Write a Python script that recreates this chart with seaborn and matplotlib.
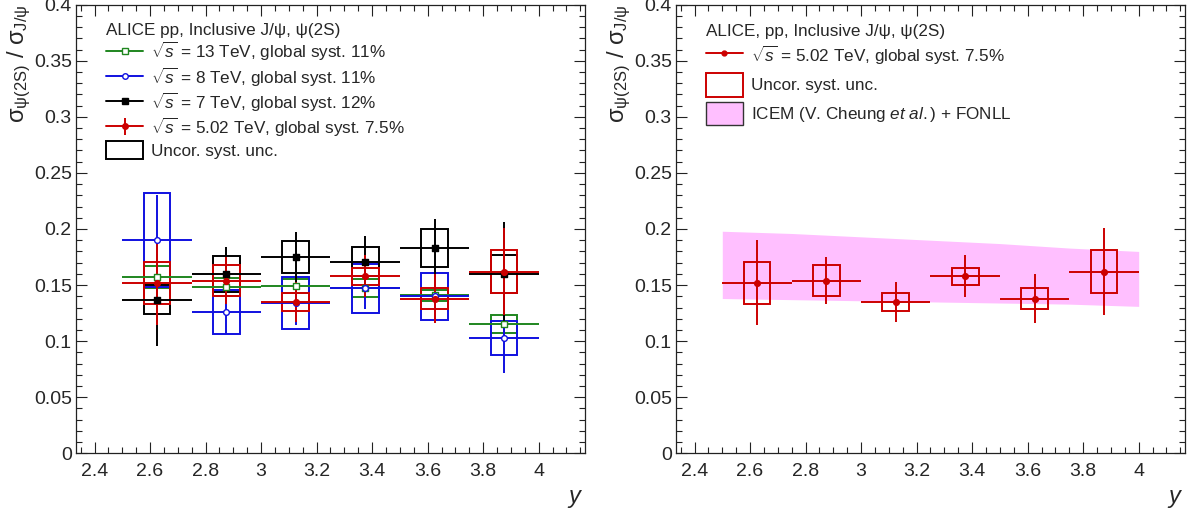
# -*- coding: utf-8 -*-
import numpy as np
import pandas as pd
import matplotlib
matplotlib.use("Agg")
import matplotlib.pyplot as plt
from matplotlib.lines import Line2D
from matplotlib.patches import Patch
from matplotlib.ticker import MultipleLocator, FormatStrFormatter
import seaborn as sns

sns.set_style("ticks")
plt.rcParams['font.family'] = ['Liberation Sans', 'DejaVu Sans']
plt.rcParams['mathtext.fontset'] = 'custom'
plt.rcParams['mathtext.rm'] = 'Liberation Sans'
plt.rcParams['mathtext.it'] = 'Liberation Sans:italic'
plt.rcParams['mathtext.bf'] = 'Liberation Sans:bold'

# ---------------- data ----------------
rap = [2.625, 2.875, 3.125, 3.375, 3.625, 3.875]
rap_halfbin = [0.125] * 6

# sqrt(s) = 13 TeV
val_13 = [0.157, 0.148, 0.149, 0.147, 0.141, 0.115]
stat_13 = [0.008, 0.007, 0.007, 0.006, 0.005, 0.007]
syst_13 = [0.010, 0.008, 0.006, 0.008, 0.005, 0.008]
# sqrt(s) = 8 TeV
val_8 = [0.190, 0.126, 0.134, 0.147, 0.140, 0.103]
stat_8 = [0.040, 0.020, 0.020, 0.018, 0.020, 0.031]
syst_8 = [0.042, 0.020, 0.023, 0.022, 0.021, 0.015]
# sqrt(s) = 7 TeV
val_7 = [0.137, 0.160, 0.175, 0.171, 0.183, 0.160]
stat_7 = [0.041, 0.024, 0.022, 0.023, 0.026, 0.046]
syst_7 = [0.013, 0.016, 0.014, 0.013, 0.017, 0.017]
# sqrt(s) = 5.02 TeV
val_5 = [0.152, 0.154, 0.135, 0.158, 0.138, 0.162]
stat_5 = [0.038, 0.021, 0.0175, 0.019, 0.022, 0.039]
syst_5 = [0.019, 0.014, 0.008, 0.0075, 0.0095, 0.019]

# ICEM + FONLL band
band_rap = [2.5, 2.75, 3.0, 3.25, 3.5, 3.75, 4.0]
band_lo = [0.138, 0.137, 0.136, 0.135, 0.134, 0.133, 0.131]
band_hi = [0.198, 0.196, 0.193, 0.190, 0.187, 0.183, 0.180]

legend_head_l = "ALICE pp, Inclusive J/\u03c8, \u03c8(2S)"
legend_head_r = "ALICE, pp, Inclusive J/\u03c8, \u03c8(2S)"
lab_13 = r"$\sqrt{s}$ = 13 TeV, global syst. 11%"
lab_8 = r"$\sqrt{s}$ = 8 TeV, global syst. 11%"
lab_7 = r"$\sqrt{s}$ = 7 TeV, global syst. 12%"
lab_5 = r"$\sqrt{s}$ = 5.02 TeV, global syst. 7.5%"
lab_box = "Uncor. syst. unc."
lab_model = r"ICEM (V. Cheung $\it{et\ al.}$) + FONLL"

c_green = "#1f861f"
c_blue = "#1010e0"
c_black = "#000000"
c_red = "#cc0000"
c_band = "#ffbfff"

LW = 1.4
FS_TICK = 14
FS_LEG = 12.3


def draw_set(ax, val, stat, syst, color, marker, face):
    df = pd.DataFrame({"y": rap, "r": val, "stat": stat, "syst": syst})
    ax.bar(df["y"], 2 * df["syst"], bottom=df["r"] - df["syst"], width=0.097,
           fill=False, edgecolor=color, linewidth=LW, zorder=3)
    ax.errorbar(df["y"], df["r"], xerr=rap_halfbin, yerr=df["stat"],
                fmt="none", ecolor=color, elinewidth=LW, capsize=0, zorder=4)
    sns.scatterplot(data=df, x="y", y="r", ax=ax, marker=marker, s=17,
                    facecolor=face, edgecolor=color, linewidth=1.0,
                    zorder=5, legend=False)


def style_axes(ax):
    ax.set_xlim(2.3333, 4.1667)
    ax.set_ylim(0, 0.4)
    ax.xaxis.set_major_locator(MultipleLocator(0.2))
    ax.xaxis.set_minor_locator(MultipleLocator(0.05))
    ax.yaxis.set_major_locator(MultipleLocator(0.05))
    ax.yaxis.set_minor_locator(MultipleLocator(0.01))
    ax.xaxis.set_major_formatter(FormatStrFormatter("%g"))
    ax.yaxis.set_major_formatter(FormatStrFormatter("%g"))
    ax.tick_params(which="both", direction="in", top=True, right=True,
                   width=0.8, labelsize=FS_TICK, color="#222222")
    ax.tick_params(which="major", length=8)
    ax.tick_params(which="minor", length=4)
    ax.tick_params(axis="x", pad=7)
    ax.tick_params(axis="y", pad=3)
    for s in ax.spines.values():
        s.set_linewidth(0.9)
        s.set_color("#222222")
    ax.set_ylabel(r"$\mathrm{\sigma_{\psi(2S)}}$ / $\mathrm{\sigma_{J/\psi}}$",
                  fontsize=17, loc="top")
    ax.yaxis.set_label_coords(-0.085, 1.0)
    ax.set_xlabel("y", fontsize=17, style="italic", loc="right")
    ax.xaxis.set_label_coords(0.99, -0.07)


fig = plt.figure(figsize=(11.95, 5.15), dpi=100)
axL = fig.add_axes([0.0636, 0.1198, 0.4259, 0.8711])
axR = fig.add_axes([0.5657, 0.1198, 0.4259, 0.8711])

# ---------------- left panel ----------------
draw_set(axL, val_13, stat_13, syst_13, c_green, "s", "white")
draw_set(axL, val_8, stat_8, syst_8, c_blue, "o", "white")
draw_set(axL, val_7, stat_7, syst_7, c_black, "s", c_black)
draw_set(axL, val_5, stat_5, syst_5, c_red, "o", c_red)
style_axes(axL)

h13 = Line2D([], [], color=c_green, lw=LW, marker="s", ms=4, mfc="white", mec=c_green)
h8 = Line2D([], [], color=c_blue, lw=LW, marker="o", ms=4, mfc="white", mec=c_blue)
h7 = Line2D([], [], color=c_black, lw=LW, marker="s", ms=4, mfc=c_black, mec=c_black)
h5 = axL.errorbar([], [], yerr=[], fmt="-o", color=c_red, lw=LW, ms=4, capsize=3)
hbox = Patch(facecolor="none", edgecolor=c_black, lw=LW)
axL.legend([h13, h8, h7, h5, hbox], [lab_13, lab_8, lab_7, lab_5, lab_box],
           title=legend_head_l, loc="upper left", bbox_to_anchor=(0.049, 0.969),
           frameon=False, fontsize=FS_LEG, title_fontsize=FS_LEG,
           alignment="left", handlelength=2.2, handleheight=1.25,
           handletextpad=0.45, labelspacing=0.12, borderpad=0.28, borderaxespad=0)

# ---------------- right panel ----------------
axR.fill_between(band_rap, band_lo, band_hi, color=c_band, lw=0, zorder=1)
draw_set(axR, val_5, stat_5, syst_5, c_red, "o", c_red)
style_axes(axR)

hr5 = Line2D([], [], color=c_red, lw=LW, marker="o", ms=3.5, mfc=c_red, mec=c_red)
hrbox = Patch(facecolor="none", edgecolor=c_red, lw=LW)
hmodel = Patch(facecolor=c_band, edgecolor="#333333", lw=1.0)
axR.legend([hr5, hrbox, hmodel], [lab_5, lab_box, lab_model],
           title=legend_head_r, loc="upper left", bbox_to_anchor=(0.058, 0.958),
           frameon=False, fontsize=FS_LEG, title_fontsize=FS_LEG,
           alignment="left", handlelength=2.2, handleheight=1.75,
           handletextpad=0.45, labelspacing=0.3, borderpad=0, borderaxespad=0)

fig.savefig("out.png", dpi=100)
